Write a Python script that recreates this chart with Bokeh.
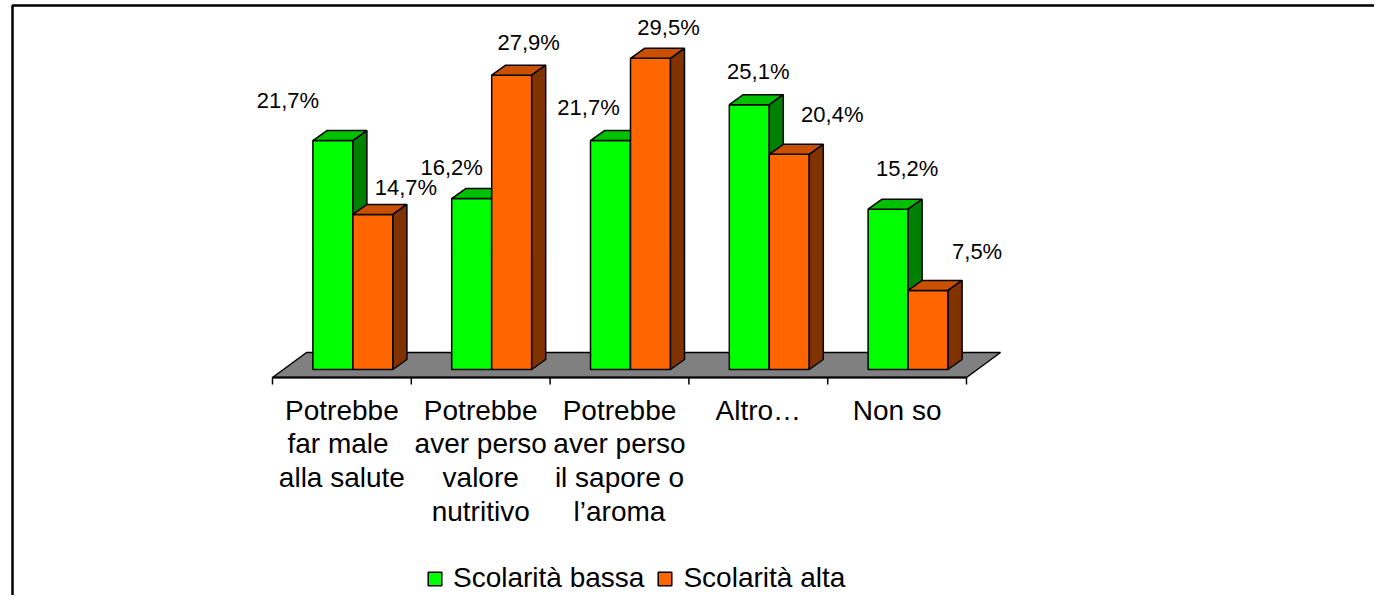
import numpy as np
from bokeh.plotting import figure
from bokeh.models import ColumnDataSource, Range1d, Legend, LegendItem
from bokeh.embed import file_html
from bokeh.resources import INLINE
from bokeh.core.properties import value

# ---------------- data ----------------
categories = [
    "Potrebbe\nfar  male\nalla salute",
    "Potrebbe\naver perso\nvalore\nnutritivo",
    "Potrebbe\naver perso\nil sapore o\nl\u2019aroma",
    "Altro\u2026",
    "Non so",
]
series_names = ["Scolarit\u00e0 bassa", "Scolarit\u00e0 alta"]
bassa = [21.7, 16.2, 21.7, 25.1, 15.2]
alta = [14.7, 27.9, 29.5, 20.4, 7.5]

# label placement offsets in screen pixels (style, not data)
lab_dx_bassa = [-45, -20, -22, 9, 19]
lab_dy_bassa = [-40, -31, -33, -33, -41]
lab_dx_alta = [33, 17, 18, 43, 49]
lab_dy_alta = [-27, -33, -31, -40, -39]

# ---------------- geometry (image pixel calibration) ----------------
W, H = 1374, 595
ORG_X, ORG_Y = 0, 0           # picture origin of the figure
X0_PX = 272                   # picture x of first category boundary
CAT_PX = 138.8                # px per category
BASE_PY = 369                 # picture y of value 0 (bar front bottom)
PCT_PX = 10.55                # px per percent


def ux(px):
    return (px - X0_PX) / CAT_PX


def uy(py):
    return (BASE_PY - py) / PCT_PX


FONT = "Liberation Sans"
n = len(categories)

p = figure(width=W, height=H, output_backend="svg", toolbar_location=None,
           x_range=Range1d(ux(ORG_X), ux(ORG_X + W)),
           y_range=Range1d(uy(ORG_Y + H), uy(ORG_Y)),
           x_axis_location=None, y_axis_location=None, min_border=0,
           background_fill_color="white", border_fill_color="white")
p.grid.visible = False
p.outline_line_color = None

# outer box (left and top edges visible)
p.line([ux(12), ux(12), ux(1400)], [uy(700), uy(5), uy(5)],
       line_color="black", line_width=2.5)

# floor
fdx = 34 / CAT_PX
fy_front = uy(377)
fy_back = uy(352)
p.patch([0, n, n + fdx, fdx], [fy_front, fy_front, fy_back, fy_back],
        fill_color="#808080", line_color="black", line_width=1.5)
# axis line + ticks at category boundaries
p.line([0, n], [fy_front, fy_front], line_color="black", line_width=2)
tick_x = list(range(n + 1))
p.segment(x0=tick_x, y0=[fy_front] * (n + 1), x1=tick_x, y1=[uy(384)] * (n + 1),
          line_color="black", line_width=1.5)

# bars
bw = 40 / CAT_PX
off = 11 / CAT_PX
ddx = 14 / CAT_PX
ddy = 10 / PCT_PX


def bar_set(vals, lefts, front, top, side):
    src = ColumnDataSource(dict(left=lefts, right=[l + bw for l in lefts],
                                top=vals, bottom=[0] * len(vals)))
    r = p.quad(left="left", right="right", top="top", bottom="bottom", source=src,
               fill_color=front, line_color="black", line_width=1.5)
    tx = [[l, l + bw, l + bw + ddx, l + ddx] for l in lefts]
    ty = [[v, v, v + ddy, v + ddy] for v in vals]
    p.patches(tx, ty, fill_color=top, line_color="black", line_width=1.5)
    sx = [[l + bw, l + bw + ddx, l + bw + ddx, l + bw] for l in lefts]
    sy = [[0, ddy, v + ddy, v] for v in vals]
    p.patches(sx, sy, fill_color=side, line_color="black", line_width=1.5)
    return r


left_b = [i + 0.5 + off - bw for i in range(n)]
left_a = [i + 0.5 + off for i in range(n)]
r_b = bar_set(bassa, left_b, "#00FF00", "#00C000", "#008000")
r_a = bar_set(alta, left_a, "#FF6600", "#C85000", "#803300")


def fmt(v):
    return ("%.1f%%" % v).replace(".", ",")


lab = ColumnDataSource(dict(
    x=[l + bw / 2 for l in left_b] + [l + bw / 2 for l in left_a],
    y=bassa + alta,
    t=[fmt(v) for v in bassa] + [fmt(v) for v in alta],
    dx=lab_dx_bassa + lab_dx_alta,
    dy=lab_dy_bassa + lab_dy_alta,
))
p.text(x="x", y="y", text="t", x_offset="dx", y_offset="dy", source=lab,
       text_font=value(FONT), text_font_size="22px", text_color="black",
       text_align="center", text_baseline="middle")

# category labels
p.text(x=[i + 0.5 for i in range(n)], y=[uy(394)] * n, text=categories,
       text_font=value(FONT), text_font_size="28px", text_color="black",
       text_align="center", text_baseline="top", text_line_height=1.09)

legend = Legend(items=[LegendItem(label=series_names[0], renderers=[r_b]),
                       LegendItem(label=series_names[1], renderers=[r_a])],
                orientation="horizontal", location=(426, 1),
                padding=0, margin=0, spacing=12, label_standoff=10,
                glyph_width=17, glyph_height=17,
                label_text_font=FONT, label_text_font_size="28px",
                label_text_color="black",
                border_line_alpha=0, background_fill_alpha=0)
p.add_layout(legend)

open("out.html", "w").write(file_html(p, INLINE))
